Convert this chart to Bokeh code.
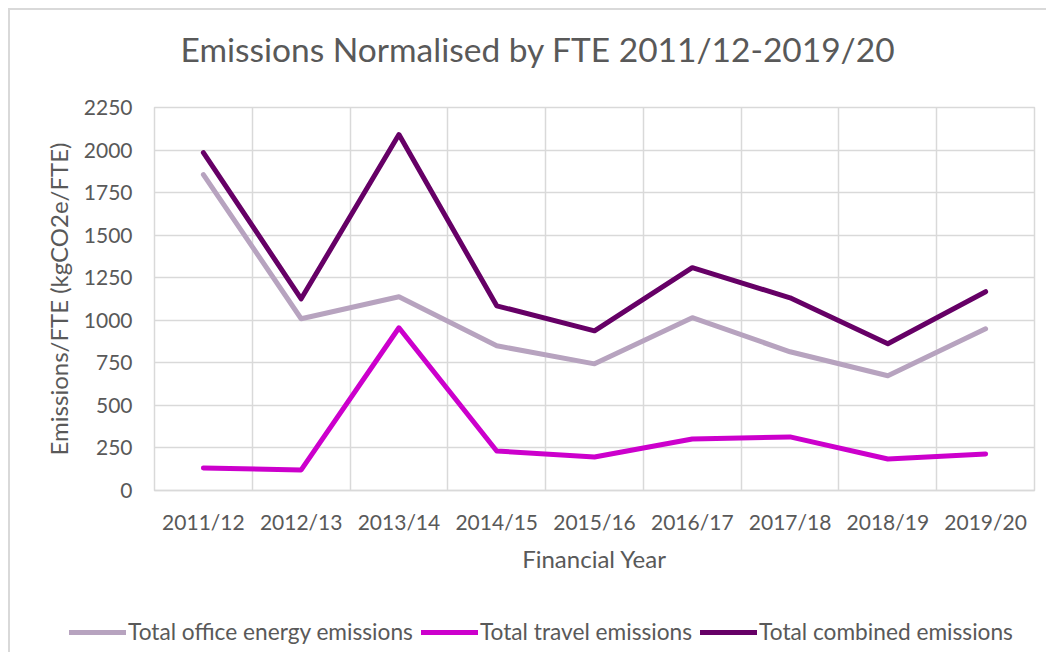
from bokeh.plotting import figure
from bokeh.layouts import column
from bokeh.models import (Range1d, FixedTicker, Legend, LegendItem, ColumnDataSource,
                          Title)
from bokeh.embed import file_html
from bokeh.resources import INLINE

years = ["2011/12", "2012/13", "2013/14", "2014/15", "2015/16",
         "2016/17", "2017/18", "2018/19", "2019/20"]
office = [1856, 1009, 1138, 850, 744, 1015, 815, 674, 950]
travel = [132, 121, 956, 232, 197, 303, 315, 185, 215]
combined = [1985, 1126, 2091, 1085, 938, 1309, 1132, 862, 1168]
y_ticks = [0, 250, 500, 750, 1000, 1250, 1500, 1750, 2000, 2250]
series_names = ["Total office energy emissions", "Total travel emissions",
                "Total combined emissions"]
chart_title = "Emissions Normalised by FTE 2011/12-2019/20"

TEXT = "#595959"
GRID = "#d9d9d9"
FONT = "Lato"
COLORS = ["#B7A3BF", "#CC00CC", "#660066"]
LW = 5

x = list(range(len(years)))
src = ColumnDataSource(dict(x=x, office=office, travel=travel, combined=combined))

p = figure(width=1036, height=590, output_backend="svg", toolbar_location=None,
           title=None,
           x_range=Range1d(-0.5, len(years) - 0.5), y_range=Range1d(0, 2250),
           min_border_left=144, min_border_right=12, min_border_top=97,
           min_border_bottom=110)
p.frame_align = False
p.styles = {"box-shadow": "-1px -1px 0 1px #d9d9d9"}
p.background_fill_color = "white"
p.border_fill_color = "white"
p.outline_line_color = GRID
p.outline_line_width = 1.5

# spacer title (closest to frame) then the real title above it
p.add_layout(Title(text=" ", text_font_size="1px", standoff=36), "above")
p.add_layout(Title(text=chart_title, align="left", offset=26, standoff=0,
                   text_font=FONT, text_font_size="33.5px",
                   text_font_style="normal", text_color=TEXT), "above")

# grids
p.xgrid.ticker = FixedTicker(ticks=[i - 0.5 for i in range(len(years) + 1)])
p.ygrid.ticker = FixedTicker(ticks=y_ticks)
p.xgrid.grid_line_color = GRID
p.ygrid.grid_line_color = GRID
p.xgrid.grid_line_width = 1.5
p.ygrid.grid_line_width = 1.5

# axes
p.xaxis.ticker = FixedTicker(ticks=x)
p.xaxis.major_label_overrides = {i: y for i, y in enumerate(years)}
p.yaxis.ticker = FixedTicker(ticks=y_ticks)
for ax in (p.xaxis[0], p.yaxis[0]):
    ax.major_tick_line_color = None
    ax.minor_tick_line_color = None
    ax.major_tick_out = 0
    ax.major_tick_in = 0
    ax.major_label_text_font = FONT
    ax.major_label_text_font_size = "21px"
    ax.major_label_text_color = TEXT
    ax.axis_label_text_font = FONT
    ax.axis_label_text_font_size = "24px"
    ax.axis_label_text_color = TEXT
    ax.axis_label_text_font_style = "normal"
p.xaxis.axis_line_color = GRID
p.xaxis.axis_line_width = 1.5
p.yaxis.axis_line_color = None
p.xaxis.axis_label = "Financial Year"
p.yaxis.axis_label = "Emissions/FTE (kgCO2e/FTE)"
p.xaxis.major_label_standoff = 18
p.yaxis.major_label_standoff = 22
p.xaxis.axis_label_standoff = 7
p.yaxis.axis_label_standoff = 8

for col, color in zip(["office", "travel", "combined"], COLORS):
    p.line("x", col, source=src, line_color=color, line_width=LW,
           line_cap="round", line_join="round")

# legend strip (separate figure below the chart); its own lines are drawn
# from the same data but fall outside its (0..1) view, only the legend shows
lf = figure(width=1036, height=52, output_backend="svg", toolbar_location=None,
            x_range=Range1d(0, 1), y_range=Range1d(0, 1),
            x_axis_location=None, y_axis_location=None,
            min_border_left=0, min_border_right=0, min_border_top=0,
            min_border_bottom=0)
lf.frame_align = False
lf.styles = {"box-shadow": "-2px 0 0 0 #d9d9d9"}
lf.grid.visible = False
lf.outline_line_color = None
lf.background_fill_color = "white"
lf.border_fill_color = "white"
items = []
for name, col, color in zip(series_names, ["office", "travel", "combined"], COLORS):
    r = lf.line("x", col, source=src, line_color=color, line_width=LW,
                line_cap="round")
    items.append(LegendItem(label=name, renderers=[r]))
legend = Legend(items=items, orientation="horizontal", location=(59, 7),
                padding=0, margin=0, spacing=8, glyph_width=57, glyph_height=20,
                label_height=20, label_standoff=2, label_text_font=FONT,
                label_text_font_size="22.7px", label_text_color=TEXT,
                background_fill_alpha=0, border_line_color=None)
lf.add_layout(legend, "center")

page = column(p, lf, spacing=0,
              styles={"position": "relative", "top": "10px", "left": "10px"})

open("out.html", "w").write(file_html(page, INLINE))
